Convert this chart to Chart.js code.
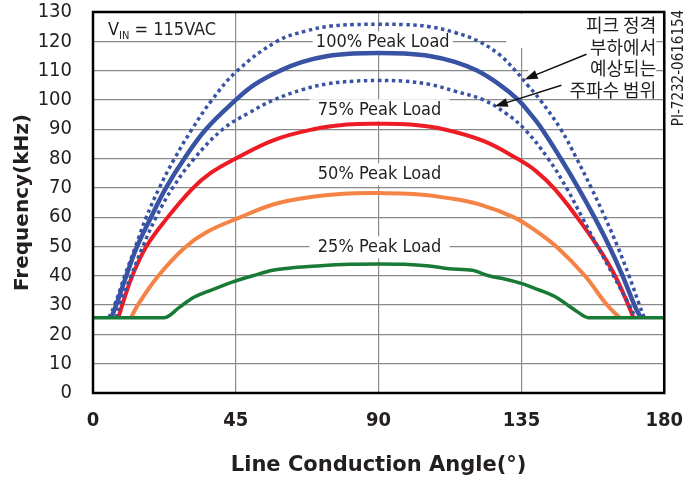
<!DOCTYPE html>
<html>
<head>
<meta charset="utf-8">
<title>Frequency vs Line Conduction Angle</title>
<script src="https://cdn.jsdelivr.net/npm/chart.js"></script>
<style>
    body { margin: 0; background: #fff; }
    canvas { display: block; }
</style>
</head>
<body>
<canvas id="freqChart" width="699" height="481"></canvas>
<script>
// angle (deg) / frequency (kHz)
const angHi100 = [5, 6.8, 10, 13.4, 16.8, 20.9, 25.7, 31.2, 37.5, 45.5, 58, 67, 75, 82, 90, 98, 106, 114, 121.5, 128, 133.1, 137, 140.9, 147.4, 152.4, 157, 161.3, 165.3, 168.9, 172.2, 173.7];
const frqHi100 = [25.7, 30, 40, 50, 60, 70, 80, 90, 100, 110, 120, 123.5, 125.2, 125.7, 125.8, 125.7, 125, 123, 120, 115.5, 110, 105, 100, 90, 80, 70, 60, 50, 40, 30, 25.7];

const ang100 = [5.8, 7.3, 10.5, 13.9, 18.3, 23, 28.8, 35.6, 45, 51, 59, 66, 74, 82, 90, 98, 106, 114, 121, 128, 134, 138, 141.5, 147.4, 152.9, 158, 162.7, 166.9, 170.6, 172.6];
const frq100 = [25.7, 30, 40, 50, 60, 70, 80, 90, 100, 105.3, 110, 113, 115, 115.8, 116, 115.8, 115, 113, 110, 105.3, 100, 95, 90, 80, 70, 60, 50, 40, 30, 25.7];

const angLo100 = [7.3, 8.4, 12, 15.7, 19.9, 25.1, 31.9, 40.9, 49, 57, 66, 74, 82, 90, 98, 106, 114, 123, 130, 136, 143.4, 149.2, 154.1, 159, 164, 169, 170.9];
const frqLo100 = [25.7, 30, 40, 50, 60, 70, 80, 90, 95.5, 100, 103.5, 105.5, 106.4, 106.6, 106.4, 105.3, 103, 100, 95.5, 90, 80, 70, 60, 50, 40, 30, 25.7];

const ang75 = [8, 9.2, 12.4, 16.8, 23.2, 31.1, 37, 45, 57, 69.5, 80, 90, 100, 110.5, 123, 133.6, 139.5, 145.3, 152.5, 159, 164.5, 168.7, 170.3];
const frq75 = [25.7, 30, 40, 50, 59.5, 69.5, 75, 80, 86.3, 90, 91.6, 91.9, 91.6, 90, 86, 80, 75.8, 69.8, 60, 50, 40, 30, 25.7];

const ang50 = [12, 14.1, 20.6, 28.8, 36, 46.5, 57, 68, 79, 90, 101, 112, 122, 132.5, 140, 146.5, 155, 162, 166];
const frq50 = [25.7, 30, 40, 49.5, 55, 60, 64.4, 66.8, 68, 68.2, 67.9, 66.5, 64.3, 60, 55, 49.5, 40, 30, 25.7];

const ang25 = [0, 22.5, 27.3, 31.5, 35.7, 39.9, 44.1, 50.4, 56.6, 62.9, 70.3, 80.7, 90, 98, 106, 112.2, 119.5, 124.7, 130, 135.2, 139.4, 143.6, 146.7, 149.6, 152.5, 156.1, 180];
const frq25 = [25.7, 25.7, 29.3, 32.5, 34.5, 36.2, 37.9, 40, 41.9, 42.7, 43.3, 43.9, 44, 43.9, 43.3, 42.4, 41.9, 40, 38.8, 37.3, 35.6, 33.9, 32.2, 30, 27.8, 25.7, 25.7];

const xTickStep = 45;
const yTickStep = 10;

const loadLabels = ['100% Peak Load', '75% Peak Load', '50% Peak Load', '25% Peak Load'];
const noteLines = ['피크 정격', '부하에서', '예상되는', '주파수 범위'];

const pts = (a, f) => a.map((v, i) => ({ x: v, y: f[i] }));

const BLUE = '#3953a4';
const TEXT = '#231f20';
const GRID = '#8a8a8a';
const SANS = '"DejaVu Sans Condensed", "Liberation Sans", sans-serif';

// where the labels sit, in chart units
const labelPos = [[91.3, 119.6], [90.3, 96.5], [90.3, 74.6], [90.3, 49.7]];
const arrows = [[[155.5, 115.6], [136, 107]], [[147.6, 105], [126.6, 97.8]]];

function arrow(ctx, x1, y1, x2, y2) {
    const a = Math.atan2(y2 - y1, x2 - x1);
    ctx.beginPath();
    ctx.moveTo(x1, y1);
    ctx.lineTo(x2 - 10 * Math.cos(a), y2 - 10 * Math.sin(a));
    ctx.stroke();
    ctx.beginPath();
    ctx.moveTo(x2, y2);
    ctx.lineTo(x2 - 13 * Math.cos(a) + 4.5 * Math.sin(a), y2 - 13 * Math.sin(a) - 4.5 * Math.cos(a));
    ctx.lineTo(x2 - 13 * Math.cos(a) - 4.5 * Math.sin(a), y2 - 13 * Math.sin(a) + 4.5 * Math.cos(a));
    ctx.closePath();
    ctx.fill();
}

const notes = {
    id: 'notes',
    beforeDatasetsDraw(chart) {
        const { ctx, chartArea: area, scales: { x, y } } = chart;
        ctx.save();
        // load labels sit on a white patch that breaks the grid
        ctx.font = '18px ' + SANS;
        ctx.textAlign = 'center';
        ctx.textBaseline = 'middle';
        loadLabels.forEach((t, i) => {
            const px = x.getPixelForValue(labelPos[i][0]);
            const py = y.getPixelForValue(labelPos[i][1]);
            ctx.fillStyle = '#fff';
            ctx.fillRect(px - 70, py - 11, 140, 22);
            ctx.fillStyle = TEXT;
            ctx.fillText(t, px, py);
        });

        // korean note, top right
        ctx.fillStyle = '#fff';
        ctx.fillRect(area.right - 158, area.top + 2, 150, 34);
        ctx.fillRect(area.right - 136, area.top + 48, 128, 20);
        ctx.font = '18px "Noto Sans CJK KR", sans-serif';
        ctx.textAlign = 'right';
        ctx.fillStyle = TEXT;
        noteLines.forEach((t, i) => {
            ctx.fillText(t, area.right - 8, area.top + 13 + i * 21.7);
        });

        // V_IN label
        ctx.textAlign = 'left';
        ctx.textBaseline = 'alphabetic';
        const vx = area.left + 15, vy = area.top + 23;
        ctx.font = '18px ' + SANS;
        ctx.fillText('V', vx, vy);
        const vw = ctx.measureText('V').width;
        ctx.font = '11px ' + SANS;
        ctx.fillText('IN', vx + vw, vy + 4);
        const iw = ctx.measureText('IN').width;
        ctx.font = '18px ' + SANS;
        ctx.fillText(' = 115VAC', vx + vw + iw, vy);

        // drawing number on the right edge
        ctx.translate(area.right + 15, area.top + 56);
        ctx.rotate(-Math.PI / 2);
        ctx.textAlign = 'center';
        ctx.textBaseline = 'middle';
        ctx.font = '15px ' + SANS;
        ctx.fillText('PI-7232-0616154', 0, 0);
        ctx.restore();
    },
    afterDatasetsDraw(chart) {
        const { ctx, chartArea: area, scales: { x, y } } = chart;
        ctx.save();
        ctx.strokeStyle = '#111';
        ctx.fillStyle = '#111';
        ctx.lineWidth = 1.5;
        arrows.forEach(([from, to]) => {
            arrow(ctx, x.getPixelForValue(from[0]), y.getPixelForValue(from[1]),
                x.getPixelForValue(to[0]), y.getPixelForValue(to[1]));
        });
        ctx.lineWidth = 2.5;
        ctx.strokeStyle = '#000';
        ctx.strokeRect(area.left, area.top, area.right - area.left, area.bottom - area.top);
        ctx.restore();
    }
};

const line = (data, color, extra) => Object.assign({
    data: data,
    borderColor: color,
    borderWidth: 4,
    pointRadius: 0,
    fill: false,
    tension: 0.4
}, extra);

const freqChart = new Chart(document.getElementById('freqChart').getContext('2d'), {
    type: 'line',
    data: {
        datasets: [
            line(pts(ang25, frq25), '#187a35', { borderWidth: 3.5, cubicInterpolationMode: 'monotone' }),
            line(pts(angHi100, frqHi100), BLUE, { borderWidth: 3.5, borderDash: [3.5, 3.5] }),
            line(pts(angLo100, frqLo100), BLUE, { borderWidth: 3.5, borderDash: [3.5, 3.5] }),
            line(pts(ang100, frq100), BLUE, { borderWidth: 4.5 }),
            line(pts(ang75, frq75), '#ed1c24'),
            line(pts(ang50, frq50), '#f58345')
        ]
    },
    options: {
        responsive: false,
        animation: false,
        layout: { padding: { top: 12, right: 33, left: 0, bottom: 0 } },
        plugins: {
            legend: { display: false },
            tooltip: { enabled: false }
        },
        scales: {
            x: {
                type: 'linear',
                min: 0,
                max: 180,
                ticks: {
                    stepSize: xTickStep,
                    padding: 16,
                    color: TEXT,
                    font: { family: SANS, size: 20, weight: 'bold' }
                },
                grid: { color: GRID, lineWidth: 1.2, drawTicks: false },
                border: { display: false },
                title: {
                    display: true,
                    text: 'Line Conduction Angle(°)',
                    color: TEXT,
                    font: { family: '"DejaVu Sans", sans-serif', size: 21, weight: 'bold' },
                    padding: { top: 0, bottom: 3 }
                },
                afterFit(s) { s.height = 88; }
            },
            y: {
                min: 0,
                max: 130,
                ticks: {
                    stepSize: yTickStep,
                    padding: 21,
                    color: TEXT,
                    font: { family: SANS, size: 20 }
                },
                grid: { color: GRID, lineWidth: 1.2, drawTicks: false },
                border: { display: false },
                title: {
                    display: true,
                    text: 'Frequency(kHz)',
                    color: TEXT,
                    font: { family: '"DejaVu Sans", sans-serif', size: 20, weight: 'bold' },
                    padding: { top: 11, bottom: 0 }
                },
                afterFit(s) {
                    s.width = 93;
                    // the tick padding would otherwise push the plot down
                    s.paddingTop = 0;
                    s.paddingBottom = 0;
                }
            }
        }
    },
    plugins: [notes]
});
</script>
</body>
</html>
